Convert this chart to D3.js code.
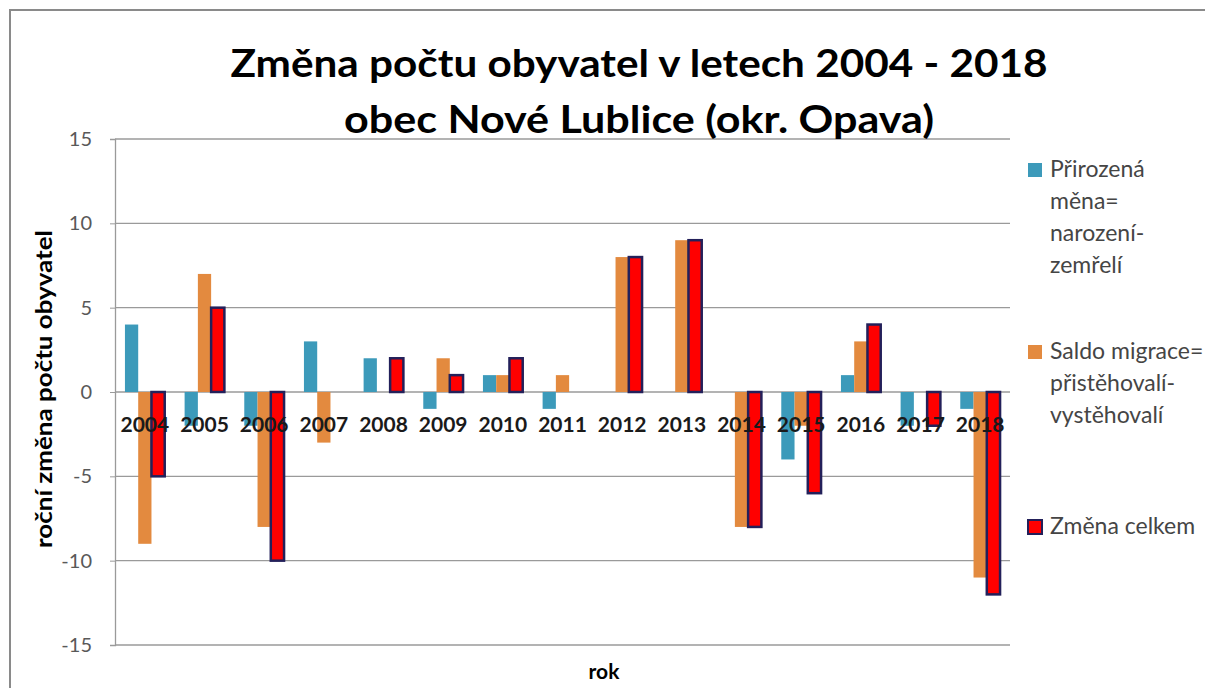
<!DOCTYPE html>
<html>
<head>
<meta charset="utf-8">
<script src="https://cdn.jsdelivr.net/npm/d3@7"></script>
<style>
  body { margin: 0; background: #fff; }
  svg { display: block; font-family: Lato, "Open Sans", sans-serif; }
</style>
</head>
<body>
<div class="chart"></div>
<script>
// data
const years = ['2004', '2005', '2006', '2007', '2008', '2009', '2010', '2011', '2012', '2013', '2014', '2015', '2016', '2017', '2018'];
const prirozenaMena = [4, -2, -2, 3, 2, -1, 1, -1, 0, 0, 0, -4, 1, -2, -1];
const saldoMigrace = [-9, 7, -8, -3, 0, 2, 1, 1, 8, 9, -8, -2, 3, 0, -11];
const zmenaCelkem = [-5, 5, -10, 0, 2, 1, 2, 0, 8, 9, -8, -6, 4, -2, -12];
const yTicks = [15, 10, 5, 0, -5, -10, -15];

const keys = ['prirozena', 'saldo', 'celkem'];
const legendLines = [
  ['Přirozená', 'měna=', 'narození-', 'zemřelí'],
  ['Saldo migrace=', 'přistěhovalí-', 'vystěhovalí'],
  ['Změna celkem']
];
const titleLines = ['Změna počtu obyvatel v letech 2004 - 2018', 'obec Nové Lublice (okr. Opava)'];

const width = 1205;
const height = 688;
const plot = { left: 115, right: 1010, top: 139, bottom: 645 };

const color = d3.scaleOrdinal()
  .domain(keys)
  .range(['#3c9aba', '#e38a3f', '#ff0000']);

const svg = d3.select('.chart')
  .append('svg')
  .attr('width', width)
  .attr('height', height);

// outer chart border (only top and left are inside the picture)
svg.append('rect')
  .attr('x', 10)
  .attr('y', 10)
  .attr('width', width + 20)
  .attr('height', height + 20)
  .attr('fill', '#fff')
  .attr('stroke', '#8a8a8a')
  .attr('stroke-width', 2);

// scales
const x = d3.scaleBand()
  .domain(years)
  .range([plot.left, plot.right]);

const xg = d3.scaleBand()
  .domain(keys)
  .range([0, x.bandwidth()])
  .paddingOuter(0.75);

const y = d3.scaleLinear()
  .domain([-15, 15])
  .range([plot.bottom, plot.top]);

// gridlines
svg.append('g')
  .selectAll('line')
  .data(yTicks)
  .join('line')
  .attr('x1', plot.left)
  .attr('x2', plot.right)
  .attr('y1', d => y(d))
  .attr('y2', d => y(d))
  .attr('stroke', '#9a9a9a')
  .attr('stroke-width', 1.3);

// y axis
const yAxis = d3.axisLeft(y)
  .tickValues(yTicks)
  .tickFormat(d => String(d))
  .tickSize(5)
  .tickPadding(18);

svg.append('g')
  .attr('class', 'y-axis')
  .attr('transform', `translate(${plot.left}, 0)`)
  .call(yAxis)
  .call(g => g.select('.domain').attr('stroke', '#9a9a9a').attr('stroke-width', 1.3))
  .call(g => g.selectAll('.tick line').attr('stroke', '#9a9a9a'))
  .call(g => g.selectAll('.tick text')
    .attr('font-size', 20)
    .attr('font-family', 'Lato, sans-serif')
    .attr('fill', '#595959'));

// bars
const rows = years.map((yr, i) => ({
  year: yr,
  values: [
    { key: 'prirozena', value: prirozenaMena[i] },
    { key: 'saldo', value: saldoMigrace[i] },
    { key: 'celkem', value: zmenaCelkem[i] }
  ]
}));

svg.append('g')
  .selectAll('g')
  .data(rows)
  .join('g')
  .attr('transform', d => `translate(${x(d.year)}, 0)`)
  .selectAll('rect')
  .data(d => d.values.filter(v => v.value !== 0))
  .join('rect')
  .attr('x', d => xg(d.key))
  .attr('y', d => y(Math.max(0, d.value)))
  .attr('width', xg.bandwidth())
  .attr('height', d => Math.abs(y(0) - y(d.value)))
  .attr('fill', d => color(d.key))
  .attr('stroke', d => d.key === 'celkem' ? '#23205a' : 'none')
  .attr('stroke-width', 2.5);

// category labels next to the zero line
svg.append('g')
  .selectAll('text')
  .data(years)
  .join('text')
  .attr('x', d => x(d) + x.bandwidth() / 2)
  .attr('y', y(0) + 40)
  .attr('text-anchor', 'middle')
  .attr('font-size', 21)
  .attr('font-weight', 'bold')
  .attr('fill', '#1a1a1a')
  .text(d => d);

// title
const titleWidths = [817, 590];
svg.append('g')
  .selectAll('text')
  .data(titleLines)
  .join('text')
  .attr('x', 639)
  .attr('y', (d, i) => 77 + i * 56)
  .attr('text-anchor', 'middle')
  .attr('font-size', 38)
  .attr('font-weight', 'bold')
  .attr('fill', '#000')
  .attr('textLength', (d, i) => titleWidths[i])
  .attr('lengthAdjust', 'spacingAndGlyphs')
  .text(d => d);

// axis titles
svg.append('text')
  .attr('transform', `translate(52, 389) rotate(-90)`)
  .attr('text-anchor', 'middle')
  .attr('font-size', 23)
  .attr('font-weight', 'bold')
  .attr('fill', '#000')
  .attr('textLength', 318)
  .attr('lengthAdjust', 'spacingAndGlyphs')
  .text('roční změna počtu obyvatel');

svg.append('text')
  .attr('x', 604)
  .attr('y', 679)
  .attr('text-anchor', 'middle')
  .attr('font-size', 21)
  .attr('font-weight', 'bold')
  .attr('fill', '#000')
  .text('rok');

// legend
const legendTop = [177, 359, 534];
const legend = svg.append('g')
  .selectAll('g')
  .data(keys)
  .join('g')
  .attr('transform', (d, i) => `translate(1028, ${legendTop[i]})`);

legend.append('rect')
  .attr('x', 0)
  .attr('y', -14)
  .attr('width', 14)
  .attr('height', 14)
  .attr('fill', d => color(d))
  .attr('stroke', d => d === 'celkem' ? '#23205a' : 'none')
  .attr('stroke-width', 2);

legend.append('text')
  .attr('x', 22)
  .attr('font-size', 23)
  .attr('fill', '#454545')
  .selectAll('tspan')
  .data((d, i) => legendLines[i])
  .join('tspan')
  .attr('x', 22)
  .attr('dy', (d, i) => i === 0 ? 0 : 32)
  .text(d => d);
</script>
</body>
</html>
